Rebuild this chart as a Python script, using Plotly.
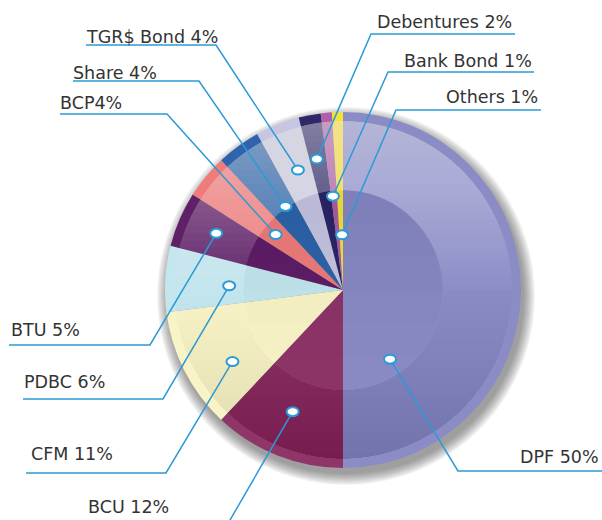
import math
import numpy as np
import plotly.graph_objects as go

# ---------------- data ----------------
categories = ["DPF", "BCU", "CFM", "PDBC", "BTU", "BCP", "Share",
              "TGR$ Bond", "Debentures", "Bank Bond", "Others"]
shares = [50, 12, 11, 6, 5, 4, 4, 4, 2, 1, 1]
label_texts = ["DPF 50%", "BCU 12%", "CFM 11%", "PDBC 6%", "BTU 5%", "BCP4%",
               "Share 4%", "TGR$ Bond 4%", "Debentures 2%", "Bank Bond 1%", "Others 1%"]

# ---------------- styles / layout ----------------
slice_colors = ["#8b8cc6", "#8f3568", "#f8f4c8", "#c4e6ee", "#5f2067", "#ef7b7b",
                "#2f64ad", "#c6c6e3", "#2e2868", "#b05ea8", "#f1e23c"]
W, H = 602, 520
CX, CY, R = 343, 290, 178          # pie centre / radius in px
RIM = 0.95                          # inner edge of the bevel rim (fraction of R)
BOWL = 0.56                         # inner bowl radius (fraction of R)
LINE_C = "#2b9ad6"
TEXT_C = "#333333"
FONT = "DejaVu Sans"
FSIZE = 17.5

# marker placement inside each slice: (fraction of slice angle, fraction of radius)
dot_frac = [0.81, 0.52, 0.35, 0.43, 0.54, 0.49, 0.60, 0.57, 0.43, 0.30, 0.72]
dot_rad = [0.47, 0.74, 0.74, 0.64, 0.78, 0.49, 0.57, 0.72, 0.75, 0.53, 0.31]

# label placement (px): text x, text y, anchor, underline start x, elbow x, underline y
label_pos = [
    (601, 457, "right", 602, 458, 471),   # DPF
    (86, 507, "left", None, 226, 527),     # BCU (line runs off the bottom)
    (29, 454, "left", 26, 166, 473),       # CFM
    (22, 382, "left", 23, 163, 399),       # PDBC
    (9, 330, "left", 9, 150, 345),         # BTU
    (58, 103, "left", 60, 167, 114),       # BCP
    (71, 73, "left", 73, 199, 81),         # Share
    (84, 37, "left", 86, 216, 45),         # TGR$
    (514, 22, "right", 515, 371, 34),      # Debentures
    (534, 61, "right", 534, 388, 72),      # Bank Bond
    (540, 97, "right", 541, 396, 110),     # Others
]

fig = go.Figure()

fig.add_trace(go.Pie(
    labels=categories, values=shares, sort=False, direction="clockwise",
    rotation=0, marker=dict(colors=slice_colors, line=dict(width=0)),
    textinfo="none", hoverinfo="label+percent", showlegend=False,
    domain=dict(x=[(CX - R) / W, (CX + R) / W],
                y=[(H - CY - R) / H, (H - CY + R) / H]),
))

shapes = []

# ---- drop shadow (below the pie) ----
SCX, SCY = CX + 3, CY + 6
for j in range(12):
    rr = R + 11 - j
    shapes.append(dict(type="circle", xref="x", yref="y", layer="below",
                       x0=SCX - rr, x1=SCX + rr, y0=SCY - rr, y1=SCY + rr,
                       fillcolor="rgba(60,55,60,0.05)", line=dict(width=0)))


def arc_pts(r, a0, a1, n=90):
    ph = np.linspace(a0, a1, n)
    return [(CX + r * math.cos(p), CY - r * math.sin(p)) for p in ph]


def seg_region(c, r_out, r_in, above=True):
    """Region of annulus r_in<r<r_out with math-y > c (above) or < c (below)."""
    sgn = 1 if above else -1
    cc = sgn * c
    pts_o = []
    if cc <= -r_out:
        pts_o = arc_pts(r_out, 0, 2 * math.pi, 160)
    elif cc < r_out:
        f = math.asin(cc / r_out)
        pts_o = arc_pts(r_out, f, math.pi - f)
    if sgn < 0:
        pts_o = [(x, 2 * CY - y) for x, y in pts_o]
    path = ""
    if pts_o:
        path += "M" + "L".join(f"{x:.2f},{y:.2f}" for x, y in pts_o) + "Z"
    pts_i = []
    if r_in > 0:
        if cc <= -r_in:
            pts_i = arc_pts(r_in, 0, 2 * math.pi, 160)
        elif cc < r_in:
            f = math.asin(cc / r_in)
            pts_i = arc_pts(r_in, f, math.pi - f)
        if sgn < 0:
            pts_i = [(x, 2 * CY - y) for x, y in pts_i]
        pts_i = pts_i[::-1]
    if pts_i:
        path += "M" + "L".join(f"{x:.2f},{y:.2f}" for x, y in pts_i) + "Z"
    return path


# ---- bevel gradient on the body (between bowl and rim) ----
r_out = RIM * R
r_in = BOWL * R
N = 24
a_w = 1 - (1 - 0.42) ** (1 / N)
for k in range(N):
    c = r_out * (1 - (k + 1) / N)  # levels from near top down to centre
    shapes.append(dict(type="path", xref="x", yref="y", layer="above",
                       path=seg_region(c, r_out, r_in, True),
                       fillcolor=f"rgba(255,255,255,{a_w:.4f})", line=dict(width=0)))
a_b = 1 - (1 - 0.11) ** (1 / N)
for k in range(N):
    c = r_out * (1 - (k + 1) / N)
    shapes.append(dict(type="path", xref="x", yref="y", layer="above",
                       path=seg_region(-c, r_out, r_in, False),
                       fillcolor=f"rgba(20,10,40,{a_b:.4f})", line=dict(width=0)))
# ---- bowl: slightly darker on top ----
M = 6
for k in range(M):
    c = r_in * (1 - 2 * (k + 1) / M)
    shapes.append(dict(type="path", xref="x", yref="y", layer="above",
                       path=seg_region(c, r_in, 0, True),
                       fillcolor="rgba(20,10,40,0.006)", line=dict(width=0)))

# ---- leader lines and markers ----
cum = np.concatenate([[0], np.cumsum(shares)]) / sum(shares) * 360.0
annotations = []
for i, txt in enumerate(label_texts):
    ang = math.radians(cum[i] + dot_frac[i] * (cum[i + 1] - cum[i]))
    dx = CX + dot_rad[i] * R * math.sin(ang)
    dy = CY - dot_rad[i] * R * math.cos(ang)
    tx, ty, anc, ux0, ex, uy = label_pos[i]
    if ux0 is None:
        path = f"M{dx:.2f},{dy:.2f}L{ex},{uy}"
    else:
        path = f"M{ux0},{uy}L{ex},{uy}L{dx:.2f},{dy:.2f}"
    shapes.append(dict(type="path", xref="x", yref="y", layer="above", path=path,
                       line=dict(color=LINE_C, width=1.5)))
    shapes.append(dict(type="circle", xref="x", yref="y", layer="above",
                       x0=dx - 6, x1=dx + 6, y0=dy - 4.5, y1=dy + 4.5,
                       fillcolor="white", line=dict(color=LINE_C, width=2)))
    annotations.append(dict(x=tx, y=ty, xref="x", yref="y", text=txt,
                            showarrow=False, xanchor=anc, yanchor="middle",
                            font=dict(family=FONT, size=FSIZE, color=TEXT_C)))

fig.update_layout(
    width=W, height=H, margin=dict(l=0, r=0, t=0, b=0),
    paper_bgcolor="white", plot_bgcolor="rgba(0,0,0,0)",
    xaxis=dict(range=[0, W], visible=False, fixedrange=True, domain=[0, 1]),
    yaxis=dict(range=[H, 0], visible=False, fixedrange=True, domain=[0, 1]),
    shapes=shapes, annotations=annotations, showlegend=False,
)

fig.write_html("out.html", config={"displayModeBar": False},
               post_script="document.body.style.margin='0';")
